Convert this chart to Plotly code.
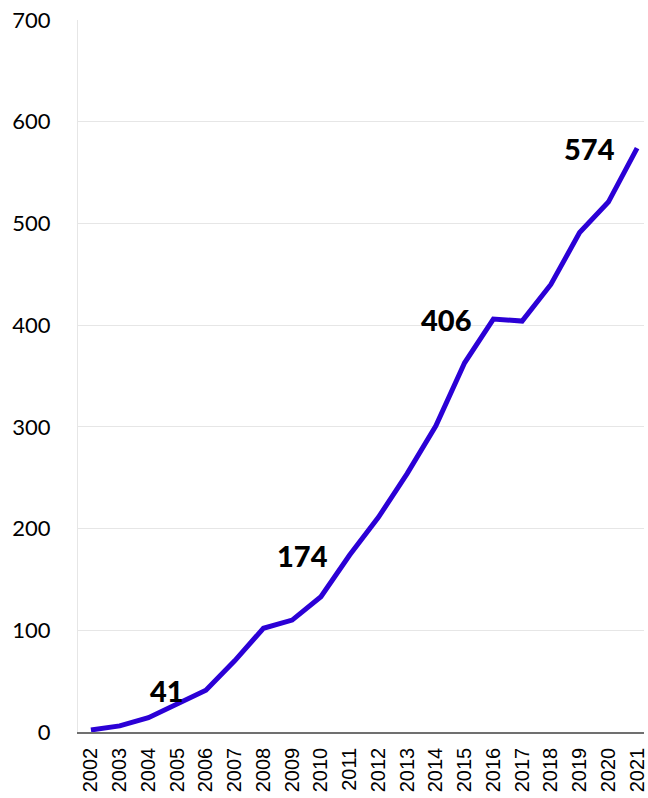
import plotly.graph_objects as go

years = list(range(2002, 2022))
values = [2, 6, 14, 27, 41, 70, 102, 110, 133, 174, 211, 254, 301, 363, 406, 404, 440, 491, 521, 574]
label_years = [2006, 2011, 2016, 2021]
label_values = [41, 174, 406, 574]
y_ticks = [0, 100, 200, 300, 400, 500, 600, 700]

fig = go.Figure()
fig.add_trace(go.Scatter(
    x=years, y=values, mode="lines",
    line=dict(color="#2b00d6", width=5),
    hoverinfo="skip", showlegend=False,
))

for xv, yv in zip(label_years, label_values):
    fig.add_annotation(
        x=xv, y=yv, text=str(yv), showarrow=False,
        xanchor="right", yanchor="middle", xshift=-20, yshift=0,
        font=dict(family="Lato", size=29, color="#000000", weight=900),
    )

fig.update_layout(
    width=648, height=798,
    margin=dict(l=78, r=0, t=20, b=66),
    paper_bgcolor="white", plot_bgcolor="white",
    xaxis=dict(
        range=[2001.55, 2021.24], tickmode="array", tickvals=years,
        ticktext=[str(y) for y in years], tickangle=-90,
        tickfont=dict(family="Liberation Sans", size=20, color="#000000"),
        showgrid=False, zeroline=False, showline=True, linecolor="#707070", linewidth=1.5,
        ticks="", ticklen=0, ticklabeloverflow="allow", ticklabelstandoff=6,
    ),
    yaxis=dict(
        range=[0, 700], tickmode="array", tickvals=y_ticks,
        tickfont=dict(family="Lato", size=22, color="#000000"),
        showgrid=True, gridcolor="#e6e6e6", gridwidth=1,
        zeroline=False, showline=True, linecolor="#e6e6e6", linewidth=1,
        ticks="", ticklabelstandoff=22,
    ),
)

fig.write_html("out.html")
